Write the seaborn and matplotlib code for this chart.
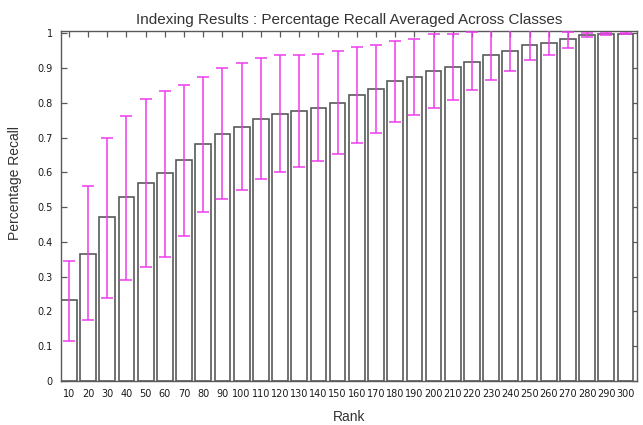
import matplotlib
matplotlib.use("Agg")
import matplotlib.pyplot as plt
import numpy as np
import pandas as pd
import seaborn as sns

# Rank cut-offs and recall averaged across classes
ranks = [10, 20, 30, 40, 50, 60, 70, 80, 90, 100,
         110, 120, 130, 140, 150, 160, 170, 180, 190, 200,
         210, 220, 230, 240, 250, 260, 270, 280, 290, 300]
recall_mean = [0.232, 0.366, 0.471, 0.530, 0.571, 0.597, 0.636, 0.681, 0.711, 0.732,
               0.754, 0.768, 0.776, 0.786, 0.799, 0.822, 0.840, 0.862, 0.874, 0.891,
               0.903, 0.919, 0.939, 0.950, 0.967, 0.971, 0.984, 0.995, 0.998, 0.999]
# Lower and upper ends of the spread around each mean
recall_low = [0.115, 0.175, 0.240, 0.292, 0.329, 0.357, 0.416, 0.487, 0.523, 0.549,
              0.581, 0.600, 0.616, 0.633, 0.654, 0.684, 0.713, 0.746, 0.765, 0.786,
              0.808, 0.836, 0.866, 0.893, 0.923, 0.939, 0.958, 0.991, 0.996, 0.997]
recall_high = [0.344, 0.560, 0.700, 0.762, 0.812, 0.834, 0.851, 0.875, 0.900, 0.916,
               0.929, 0.937, 0.937, 0.942, 0.948, 0.960, 0.967, 0.979, 0.984, 0.997,
               0.998, 1.005, 1.020, 1.030, 1.020, 1.010, 1.005, 1.000, 1.000, 1.001]
ytick_labels = ["0", "0.1", "0.2", "0.3", "0.4", "0.5", "0.6", "0.7", "0.8", "0.9", "1"]

df = pd.DataFrame({"Rank": [str(r) for r in ranks], "Recall": recall_mean})

sns.set_theme(style="white")
plt.rcParams["font.family"] = ["Liberation Sans", "DejaVu Sans"]

fig = plt.figure(figsize=(6.43, 4.25), dpi=100)
ax = fig.add_axes([0.0949, 0.1035, 0.8958, 0.8245])

edge = "#5a5a5a"
sns.barplot(data=df, x="Rank", y="Recall", color="white", saturation=1,
            edgecolor=edge, linewidth=1.2, width=0.82, errorbar=None, ax=ax)

xpos = np.arange(len(ranks))
mean = np.array(recall_mean)
yerr = np.vstack([mean - np.array(recall_low), np.array(recall_high) - mean])
ax.errorbar(xpos, mean, yerr=yerr, fmt="none", ecolor="#ee3cee",
            elinewidth=1.1, capsize=4, capthick=1.1, zorder=3)

ax.set_xlim(-0.41, len(ranks) - 0.4)
ax.set_ylim(0, 1.008)
ax.set_yticks(np.arange(0, 1.01, 0.1))
ax.set_yticklabels(ytick_labels)

ax.tick_params(axis="both", direction="in", length=4, width=0.9, color=edge,
               labelsize=7, labelcolor="#1a1a1a", pad=6,
               top=True, right=True, bottom=True, left=True)
ax.tick_params(axis="x", pad=6)
for lbl in ax.get_xticklabels() + ax.get_yticklabels():
    lbl.set_family("DejaVu Sans")

for s in ax.spines.values():
    s.set_color(edge)
    s.set_linewidth(1.0)

ax.set_xlabel("Rank", fontsize=10, color="#333333", labelpad=8)
ax.set_ylabel("Percentage Recall", fontsize=10, color="#333333")
ax.yaxis.set_label_coords(-0.068, 0.564)
ax.set_title("Indexing Results : Percentage Recall Averaged Across Classes",
             fontsize=11, color="#333333", pad=5)

fig.savefig("out.png", dpi=100)
